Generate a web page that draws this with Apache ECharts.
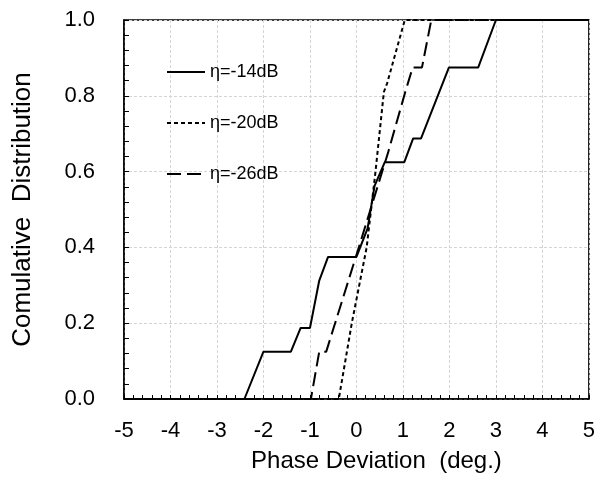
<!DOCTYPE html>
<html>
<head>
<meta charset="utf-8">
<script src="https://cdn.jsdelivr.net/npm/echarts@6/dist/echarts.min.js"></script>
<style>
  html, body { margin: 0; padding: 0; background: #fff; }
  #chart { width: 598px; height: 479px; }
</style>
</head>
<body>
<div id="chart"></div>
<script>
// ---- data ----
var seriesNames = ['η=-14dB', 'η=-20dB', 'η=-26dB'];

var solidX = [-5, -2.41, -2.0, -1.41, -1.20, -1.0, -0.80, -0.61, 0.0, 0.24, 0.39, 0.61, 1.03, 1.22, 1.39, 1.99, 2.62, 3.0, 5];
var solidY = [0, 0, 0.125, 0.125, 0.1875, 0.1875, 0.3125, 0.375, 0.375, 0.45, 0.5625, 0.625, 0.625, 0.6875, 0.6875, 0.875, 0.875, 1.0, 1.0];

var dotX = [-5, -0.38, -0.10, 0.22, 0.41, 0.59, 0.66, 1.04, 5];
var dotY = [0, 0, 0.2, 0.4, 0.6, 0.81, 0.833, 1.0, 1.0];

var dashX = [-5, -0.98, -0.80, -0.65, 0.0, 0.68, 1.05, 1.21, 1.41, 1.61, 5];
var dashY = [0, 0, 0.125, 0.125, 0.38, 0.65, 0.81, 0.875, 0.875, 1.0, 1.0];

var xTicks = [-5, -4, -3, -2, -1, 0, 1, 2, 3, 4, 5];
var yTicks = [0.0, 0.2, 0.4, 0.6, 0.8, 1.0];

function pairs(xs, ys) {
  var out = [];
  for (var i = 0; i < xs.length; i++) out.push([xs[i], ys[i]]);
  return out;
}

var FONT = '"Liberation Sans", Arial, sans-serif';
var chart = echarts.init(document.getElementById('chart'), null, { renderer: 'canvas' });

var gridLine = { show: true, lineStyle: { color: '#d4d4d4', width: 1, type: [3, 2] } };

chart.setOption({
  animation: false,
  backgroundColor: '#fff',
  grid: { left: 124, right: 6, top: 20, bottom: 80, show: true, borderColor: '#000', borderWidth: 1.5, containLabel: false },
  legend: {
    orient: 'vertical',
    left: 166,
    top: 63,
    padding: 0,
    itemWidth: 38,
    itemHeight: 14,
    itemGap: 33,
    data: seriesNames,
    itemStyle: { opacity: 0 },
    textStyle: { fontFamily: FONT, fontSize: 18, color: '#000', lineHeight: 18 },
    inactiveColor: '#000'
  },
  xAxis: {
    type: 'value',
    min: xTicks[0],
    max: xTicks[xTicks.length - 1],
    interval: 1,
    name: 'Phase Deviation  (deg.)',
    nameLocation: 'middle',
    nameGap: 50,
    nameTextStyle: { fontFamily: FONT, fontSize: 24, color: '#000', padding: [0, 0, 0, 40] },
    axisLine: { show: true, onZero: false, lineStyle: { color: '#000', width: 1.5 } },
    axisTick: { show: true, inside: true, length: 4, lineStyle: { color: '#000' } },
    minorTick: { show: true, splitNumber: 5, length: 4, lineStyle: { color: '#000' } },
    axisLabel: { fontFamily: FONT, fontSize: 22, color: '#000', margin: 21 },
    splitLine: gridLine
  },
  yAxis: {
    type: 'value',
    min: yTicks[0],
    max: yTicks[yTicks.length - 1],
    interval: 0.2,
    name: 'Comulative  Distribution',
    nameLocation: 'middle',
    nameGap: 88,
    nameTextStyle: { fontFamily: FONT, fontSize: 26, color: '#000' },
    axisLine: { show: true, onZero: false, lineStyle: { color: '#000', width: 1.5 } },
    axisTick: { show: true, inside: true, length: 5, lineStyle: { color: '#000' } },
    minorTick: { show: true, splitNumber: 5, length: 5, lineStyle: { color: '#000' } },
    axisLabel: { fontFamily: FONT, fontSize: 22, color: '#000', margin: 29, formatter: function (v) { return v.toFixed(1); } },
    splitLine: gridLine
  },
  series: [
    {
      name: seriesNames[0], type: 'line', symbol: 'none', data: pairs(solidX, solidY),
      lineStyle: { color: '#000', width: 2, type: 'solid' }, itemStyle: { color: '#000' }
    },
    {
      name: seriesNames[1], type: 'line', symbol: 'none', data: pairs(dotX, dotY),
      lineStyle: { color: '#000', width: 2, type: [4, 3] }, itemStyle: { color: '#000' }
    },
    {
      name: seriesNames[2], type: 'line', symbol: 'none', data: pairs(dashX, dashY),
      lineStyle: { color: '#000', width: 2, type: [14, 6] }, itemStyle: { color: '#000' }
    }
  ]
});
</script>
</body>
</html>
